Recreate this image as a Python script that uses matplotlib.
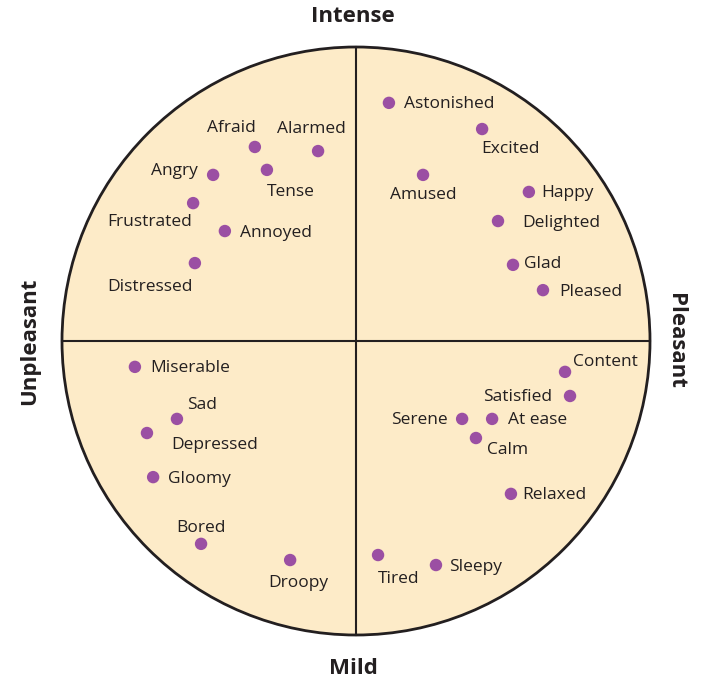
import matplotlib.pyplot as plt
from matplotlib.patches import Circle

plt.rcParams['font.family'] = ['Open Sans', 'DejaVu Sans']

# emotion words on the valence (x) / arousal (y) circle, radius = 100
words = ["Afraid", "Alarmed", "Tense", "Angry", "Frustrated", "Annoyed", "Distressed",
         "Astonished", "Excited", "Amused", "Happy", "Delighted", "Glad", "Pleased",
         "Miserable", "Sad", "Depressed", "Gloomy", "Bored", "Droopy",
         "Content", "Satisfied", "Serene", "At ease", "Calm", "Relaxed", "Tired", "Sleepy"]
valence = [-34.4, -12.9, -30.3, -48.6, -55.4, -44.6, -54.8,
           11.2, 42.9, 22.8, 58.8, 48.3, 53.4, 63.6,
           -75.2, -60.9, -71.1, -69.0, -52.7, -22.4,
           71.1, 72.8, 36.1, 46.3, 40.8, 52.7, 7.5, 27.2]
arousal = [66.0, 64.6, 58.2, 56.5, 46.9, 37.4, 26.5,
           81.0, 72.1, 56.5, 50.7, 40.8, 25.9, 17.3,
           -8.8, -26.5, -31.3, -46.3, -69.0, -74.5,
           -10.5, -18.7, -26.5, -26.5, -33.0, -52.0, -72.8, -76.2]

# where each word sits relative to its dot (pixels, alignment)
label_pos = {
    "Afraid": (-23, 20, "center"), "Alarmed": (-7, 24, "center"), "Tense": (24, -21, "center"),
    "Angry": (-15, 5, "right"), "Frustrated": (-43, -17, "center"), "Annoyed": (15, 0, "left"),
    "Distressed": (-45, -22, "center"), "Astonished": (15, 0, "left"), "Excited": (28, -18, "center"),
    "Amused": (0, -19, "center"), "Happy": (12, 0, "left"), "Delighted": (24, 0, "left"),
    "Glad": (11, 2, "left"), "Pleased": (16, 0, "left"), "Miserable": (15, 0, "left"),
    "Sad": (25, 15, "center"), "Depressed": (24, -10, "left"), "Gloomy": (15, 0, "left"),
    "Bored": (0, 17, "center"), "Droopy": (8, -21, "center"), "Content": (8, 11, "left"),
    "Satisfied": (-18, 0, "right"), "Serene": (-14, 0, "right"), "At ease": (16, 0, "left"),
    "Calm": (11, -10, "left"), "Relaxed": (11, 0, "left"), "Tired": (21, -22, "center"),
    "Sleepy": (13, 0, "left"),
}

text_col = "#231f20"
fig = plt.figure(figsize=(7.04, 6.82), dpi=100)
ax = fig.add_axes([0, 0, 1, 1])
s = 2.94  # pixels per unit
ax.set_xlim(-356 / s, (704 - 356) / s)
ax.set_ylim((341 - 682) / s, 341 / s)
ax.axis("off")

ax.add_patch(Circle((0, 0), 100, facecolor="#fdebc8", edgecolor="#231f20", lw=2, zorder=1))
ax.plot([-100, 100], [0, 0], color="#231f20", lw=1.5, zorder=2)
ax.plot([0, 0], [-100, 100], color="#231f20", lw=1.5, zorder=2)

ax.scatter(valence, arousal, s=80, color="#9b4fa3", edgecolors="none", zorder=3)
for w, v, a in zip(words, valence, arousal):
    dx, dy, ha = label_pos[w]
    ax.annotate(w, (v, a), xytext=(dx, dy - 1.5), textcoords="offset pixels",
                ha=ha, va="center", fontsize=12.5, color=text_col, zorder=4)

bold = dict(fontsize=16, fontweight="bold", color=text_col, ha="center", va="center")
ax.text(-3 / s, (341 - 17) / s, "Intense", **bold)
ax.text(-3 / s, (341 - 668) / s, "Mild", **bold)
ax.text(-326 / s, 0, "Unpleasant", rotation=90, **bold)
ax.text(320 / s, 0, "Pleasant", rotation=-90, **bold)

fig.savefig("out.png", dpi=100, facecolor="white")
